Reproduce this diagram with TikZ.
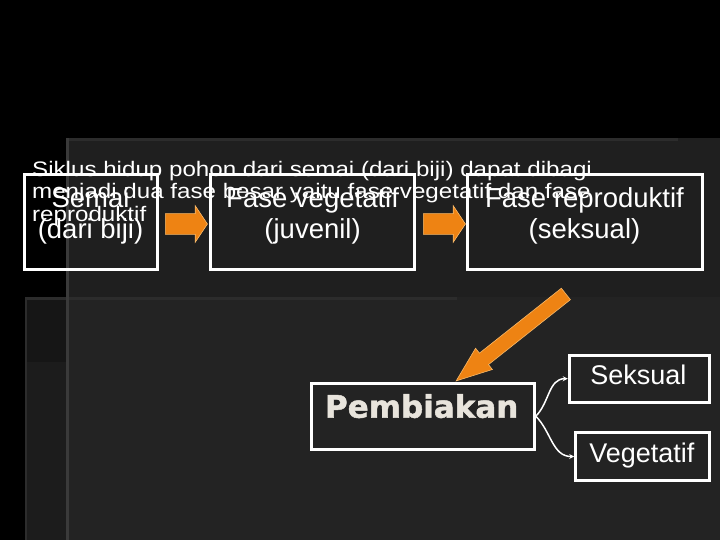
\documentclass[tikz,border=0pt]{standalone}
\usepackage{fontspec}
\setmainfont{Liberation Sans}
\newfontfamily\widefont[FakeStretch=1.15]{Liberation Sans}
\newfontfamily\heavyfont[BoldFeatures={FakeBold=1.5}]{DejaVu Sans}
\usetikzlibrary{shapes.arrows,arrows.meta}
\definecolor{panelA}{HTML}{1F1F1F}
\definecolor{panelB}{HTML}{232323}
\definecolor{panelC}{HTML}{161616}
\definecolor{panelD}{HTML}{1C1C1C}
\definecolor{edgeA}{HTML}{3A3A3A}
\definecolor{edgeB}{HTML}{2C2C2C}
\definecolor{orangeF}{HTML}{EE8313}
\definecolor{orangeD}{HTML}{F7B868}
\definecolor{pale}{HTML}{E8E4DC}
\begin{document}
\begin{tikzpicture}[x=1pt,y=-1pt,
  box/.style={draw=white, line width=3pt, inner sep=0pt},
  bigtext/.style={text=white, inner sep=0pt, align=center, font=\fontsize{27.5}{31}\selectfont},
  smalltext/.style={text=white, inner sep=0pt, font=\fontsize{27}{30}\selectfont},
  oarrow/.style={single arrow, fill=orangeF, draw=orangeD, line width=0.6pt},
  conn/.style={draw=white, line width=1.5pt, -{Stealth[length=5pt,width=5pt]}}]
\useasboundingbox (0,0) rectangle (720,540);
% background panels
\fill[black] (0,0) rectangle (720,540);
\fill[panelA] (66,138) rectangle (720,297);
\fill[panelB] (25,297) rectangle (720,540);
\fill[panelC] (25,297) rectangle (66,362);
\fill[panelD] (25,362) rectangle (66,540);
\fill[edgeB] (66,138) rectangle (678,141);
\fill[edgeB] (25,297) rectangle (457,300);
\fill[edgeA] (66,138) rectangle (69,540);
\fill[edgeB] (25,297) rectangle (27,540);
% top row boxes
\node[box, minimum width=133pt, minimum height=95pt] (semai) at (90.5,222.3) {};
\node[box, minimum width=204pt, minimum height=95pt] (veg) at (312.6,222.3) {};
\node[box, minimum width=235pt, minimum height=95pt] (rep) at (584.8,222.3) {};
\node[bigtext, anchor=north] (semaiT) at (90.5,187.3) {Semai\\(dari biji)};
\node[bigtext, anchor=north] (vegT) at (312.6,187.3) {Fase vegetatif\\(juvenil)};
\node[bigtext, anchor=north] (repT) at (584.5,187.3) {Fase reproduktif\\(seksual)};
% small arrows
\node[oarrow, minimum height=42pt, minimum width=36pt, inner xsep=0pt, inner ysep=10pt,
      single arrow head extend=8pt, single arrow tip angle=112.6] (a1) at (183,224) {};
\node[oarrow, minimum height=42pt, minimum width=36pt, inner xsep=0pt, inner ysep=10pt,
      single arrow head extend=8pt, single arrow tip angle=112.6] (a2) at (441,224) {};
% big arrow
\node[oarrow, rotate=218.4, minimum height=140pt, minimum width=26.5pt, inner xsep=0pt, inner ysep=7pt,
      single arrow head extend=6.25pt, single arrow tip angle=41.8] (a3) at (518.5,331.5) {};
% lower boxes
\node[box, minimum width=222.6pt, minimum height=65.7pt] (pemb) at (423,416.2) {};
\node[box, minimum width=140pt, minimum height=47.3pt] (seks) at (639.3,378.7) {};
\node[box, minimum width=133.6pt, minimum height=48.4pt] (vege) at (642.5,456.5) {};
\node[text=pale, inner sep=0pt, anchor=base, font=\heavyfont\bfseries\fontsize{31}{34}\selectfont] (pembT) at (421.7,417.7) {Pembiakan};
\node[smalltext, anchor=base] (seksT) at (638.3,384.3) {Seksual};
\node[smalltext, anchor=base] (vegeT) at (641.8,462.3) {Vegetatif};
% connectors
\draw[conn] (pemb.east) to[out=45,in=180] (seks.west);
\draw[conn] (pemb.east) to[out=-45,in=180] (vege.west);
% overlay text
\node[anchor=north west, align=left, inner sep=0pt, text=white,
      font=\widefont\fontsize{21}{22.5}\selectfont] (note) at (32,160.7)
  {Siklus hidup pohon dari semai (dari biji) dapat dibagi\\
   menjadi dua fase besar yaitu fase vegetatif dan fase\\
   reproduktif};
\end{tikzpicture}
\end{document}
